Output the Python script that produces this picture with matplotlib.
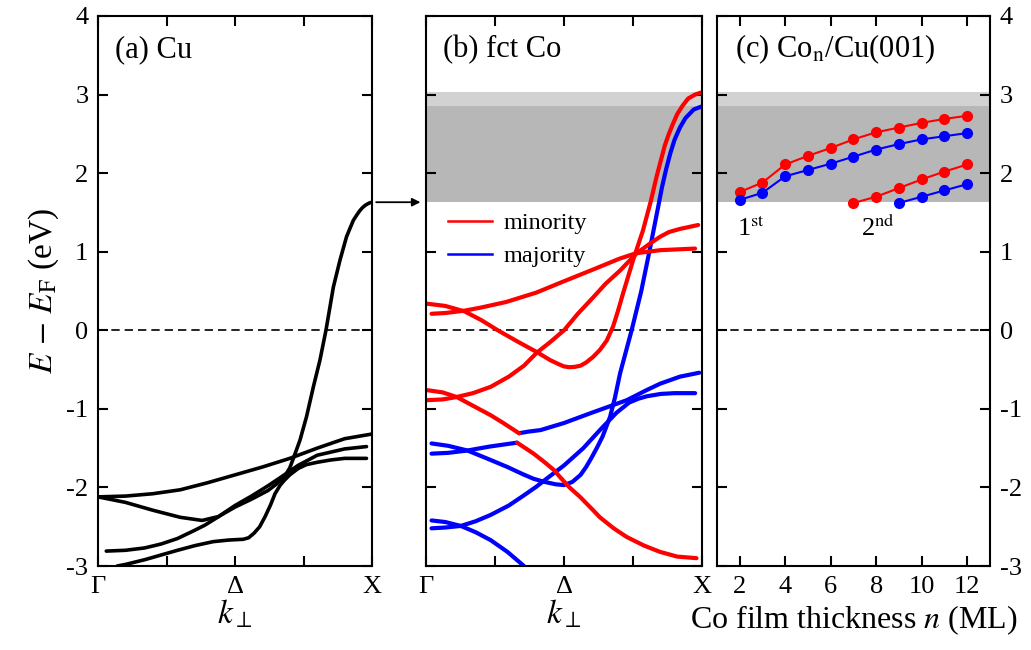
import matplotlib
matplotlib.use('Agg')
import matplotlib.pyplot as plt
from matplotlib.lines import Line2D

plt.rcParams['font.family'] = ['Liberation Serif', 'DejaVu Serif']
plt.rcParams['mathtext.fontset'] = 'stix'

# ---- (a) Cu bands along Gamma-X, k in units of Gamma-X ----
cu_k1 = [0.0, 0.1, 0.2, 0.3, 0.4, 0.5, 0.6, 0.7, 0.8, 0.9, 1.0]
cu_e1 = [-2.12, -2.11, -2.08, -2.03, -1.94, -1.84, -1.74, -1.63, -1.50, -1.38, -1.32]

cu_k2 = [0.0, 0.1, 0.2, 0.3, 0.38, 0.44, 0.5, 0.56, 0.62, 0.68, 0.73, 0.8, 0.9, 0.98]
cu_e2 = [-2.12, -2.19, -2.29, -2.38, -2.42, -2.37, -2.23, -2.11, -1.98, -1.84, -1.72, -1.59, -1.51, -1.48]

cu_k3 = [0.03, 0.1, 0.17, 0.23, 0.29, 0.35, 0.39, 0.45, 0.5, 0.56, 0.62, 0.65, 0.675, 0.69, 0.70, 0.713,
         0.737, 0.761, 0.786, 0.81, 0.832, 0.859, 0.883, 0.907, 0.92, 0.932, 0.945, 0.955, 0.965,
         0.975, 0.99, 1.0]
cu_e3 = [-2.81, -2.80, -2.77, -2.72, -2.65, -2.55, -2.48, -2.35, -2.25, -2.15, -2.04, -1.96, -1.88, -1.81, -1.75, -1.63,
         -1.40, -1.10, -0.72, -0.38, 0.0, 0.55, 0.89, 1.19, 1.30, 1.40, 1.47, 1.52, 1.56,
         1.59, 1.62, 1.63]

cu_k4 = [0.07, 0.1, 0.17, 0.23, 0.29, 0.354, 0.42, 0.475, 0.5, 0.53, 0.55, 0.57, 0.59, 0.61, 0.63, 0.646,
         0.665, 0.68, 0.70, 0.73, 0.76, 0.80, 0.85, 0.90, 0.98]
cu_e4 = [-3.0, -2.98, -2.92, -2.86, -2.80, -2.74, -2.69, -2.67, -2.665, -2.66, -2.64, -2.58, -2.50, -2.37, -2.22, -2.08,
         -1.97, -1.91, -1.84, -1.76, -1.71, -1.68, -1.65, -1.63, -1.63]

# ---- (b) fct Co, minority (red) ----
co_r1_k = [0.0, 0.07, 0.14, 0.2, 0.26, 0.33, 0.403, 0.45, 0.48, 0.5, 0.52, 0.54, 0.56, 0.58, 0.605, 0.63,
           0.655, 0.678, 0.695, 0.714, 0.75, 0.786, 0.815, 0.835, 0.85, 0.865, 0.88, 0.895, 0.91, 0.93,
           0.95, 0.975, 1.0]
co_r1_e = [0.34, 0.31, 0.24, 0.13, 0.0, -0.14, -0.28, -0.38, -0.43, -0.46, -0.47, -0.465, -0.45, -0.41, -0.34, -0.25,
           -0.13, 0.05, 0.24, 0.47, 0.89, 1.27, 1.65, 1.95, 2.15, 2.35, 2.5, 2.63, 2.75, 2.86,
           2.95, 3.0, 3.03]

co_r2_k = [0.02, 0.07, 0.14, 0.2, 0.29, 0.4, 0.49, 0.61, 0.7, 0.76, 0.85, 0.975]
co_r2_e = [0.21, 0.22, 0.25, 0.29, 0.36, 0.48, 0.61, 0.78, 0.91, 0.98, 1.02, 1.04]

co_r3_k = [0.0, 0.06, 0.11, 0.17, 0.234, 0.3, 0.355, 0.403, 0.45, 0.5, 0.55, 0.606, 0.65, 0.703,
           0.763, 0.81, 0.848, 0.88, 0.92, 0.986]
co_r3_e = [-0.89, -0.88, -0.85, -0.80, -0.72, -0.59, -0.45, -0.28, -0.15, 0.0, 0.21, 0.42, 0.59, 0.76,
           0.98, 1.10, 1.19, 1.25, 1.29, 1.34]

co_r4_k = [0.0, 0.06, 0.112, 0.17, 0.234, 0.28, 0.337]
co_r4_e = [-0.76, -0.79, -0.85, -0.96, -1.08, -1.18, -1.31]

co_r5_k = [0.33, 0.39, 0.43, 0.464, 0.486, 0.52, 0.558, 0.6, 0.63, 0.68, 0.727, 0.79, 0.848, 0.91, 0.98]
co_r5_e = [-1.43, -1.57, -1.68, -1.78, -1.87, -2.0, -2.12, -2.27, -2.38, -2.52, -2.63, -2.74, -2.82, -2.88, -2.90]

# ---- (b) fct Co, majority (blue) ----
co_b1_k = [0.02, 0.08, 0.15, 0.23, 0.33]
co_b1_e = [-1.57, -1.56, -1.53, -1.48, -1.43]

co_b2_k = [0.02, 0.08, 0.15, 0.22, 0.295, 0.35, 0.39, 0.43, 0.47, 0.5, 0.53, 0.56, 0.58, 0.6, 0.62, 0.64,
           0.667, 0.685, 0.703, 0.745, 0.78, 0.812, 0.84, 0.855, 0.87, 0.885, 0.9, 0.92, 0.94, 0.97, 1.0]
co_b2_e = [-1.44, -1.47, -1.53, -1.63, -1.74, -1.83, -1.89, -1.93, -1.96, -1.97, -1.93, -1.84, -1.74, -1.62, -1.49, -1.35,
           -1.10, -0.85, -0.55, 0.0, 0.5, 1.05, 1.55, 1.82, 2.05, 2.25, 2.42, 2.58, 2.7, 2.81, 2.85]

co_b3_k = [0.02, 0.07, 0.126, 0.18, 0.234, 0.3, 0.355, 0.4, 0.44, 0.5, 0.57, 0.63, 0.69, 0.736,
           0.77, 0.8, 0.85, 0.9, 0.975]
co_b3_e = [-2.52, -2.51, -2.49, -2.43, -2.35, -2.23, -2.10, -1.99, -1.88, -1.72, -1.50, -1.27, -1.05, -0.92,
           -0.87, -0.84, -0.81, -0.80, -0.80]

co_b4_k = [0.02, 0.07, 0.126, 0.18, 0.234, 0.295, 0.355]
co_b4_e = [-2.42, -2.44, -2.49, -2.57, -2.67, -2.82, -3.0]

co_b5_k = [0.337, 0.37, 0.415, 0.5, 0.6, 0.727, 0.8, 0.848, 0.92, 0.99]
co_b5_e = [-1.31, -1.29, -1.27, -1.18, -1.05, -0.89, -0.76, -0.68, -0.59, -0.54]

# ---- (c) Co_n/Cu(001) quantum well states ----
n_1st = [2, 3, 4, 5, 6, 7, 8, 9, 10, 11, 12]
qw1_min = [1.76, 1.88, 2.11, 2.22, 2.32, 2.43, 2.52, 2.58, 2.64, 2.69, 2.73]
qw1_maj = [1.66, 1.75, 1.96, 2.04, 2.12, 2.21, 2.30, 2.37, 2.43, 2.47, 2.51]
n_2nd_min = [7, 8, 9, 10, 11, 12]
qw2_min = [1.62, 1.70, 1.81, 1.92, 2.02, 2.11]
n_2nd_maj = [9, 10, 11, 12]
qw2_maj = [1.62, 1.70, 1.78, 1.86]

k_ticks = [0, 0.5, 1]
k_labels = ['Γ', 'Δ', 'X']
e_ticks = [-3, -2, -1, 0, 1, 2, 3, 4]

RED = '#ff0000'
BLUE = '#0000ff'
LIGHT = '#d2d2d2'
DARK = '#b7b7b7'

cu_x = cu_e3[-1]        # Cu sp-band top at X
co_min_x = co_r1_e[-1]  # Co minority at X
co_maj_x = co_b2_e[-1]  # Co majority at X

fig = plt.figure(figsize=(10.31, 6.5), dpi=100)
ax_a = fig.add_axes([0.0951, 0.1292, 0.2657, 0.8462])
ax_b = fig.add_axes([0.4132, 0.1292, 0.2677, 0.8462])
ax_c = fig.add_axes([0.6954, 0.1292, 0.2648, 0.8462])

for ax in (ax_a, ax_b, ax_c):
    ax.set_ylim(-3, 4)
    ax.set_yticks(e_ticks)
    ax.set_yticklabels([str(v) for v in e_ticks])
    ax.axhline(0, color='black', lw=1.2, ls=(0, (5, 3)), zorder=1)
    for s in ax.spines.values():
        s.set_linewidth(1.5)
    ax.tick_params(direction='in', top=True, right=True, length=7, width=1.5,
                   which='both', labelsize=19, pad=7)

for ax in (ax_a, ax_b):
    ax.set_xlim(0, 1)
    ax.set_xticks(k_ticks)
    ax.set_xticklabels(k_labels)
    ax.set_xticks([0.25, 0.75], minor=True)
    ax.set_xlabel(r'$k_\perp$', fontsize=24, labelpad=0)

# (a)
for k, e in [(cu_k1, cu_e1), (cu_k2, cu_e2), (cu_k3, cu_e3), (cu_k4, cu_e4)]:
    ax_a.plot(k, e, color='black', lw=2.6, solid_capstyle='round')
ax_a.set_ylabel(r'$E\,-\,E_{\rm F}$ (eV)', fontsize=24, labelpad=4)
ax_a.text(0.062, 0.925, '(a) Cu', transform=ax_a.transAxes, fontsize=22)

# (b)
ax_b.axhspan(cu_x, co_min_x, color=LIGHT, lw=0, zorder=0)
ax_b.axhspan(cu_x, co_maj_x, color=DARK, lw=0, zorder=0)
for k, e in [(co_b1_k, co_b1_e), (co_b2_k, co_b2_e), (co_b3_k, co_b3_e),
             (co_b4_k, co_b4_e), (co_b5_k, co_b5_e)]:
    ax_b.plot(k, e, color=BLUE, lw=3, solid_capstyle='round')
for k, e in [(co_r1_k, co_r1_e), (co_r2_k, co_r2_e), (co_r3_k, co_r3_e),
             (co_r4_k, co_r4_e), (co_r5_k, co_r5_e)]:
    ax_b.plot(k, e, color=RED, lw=3, solid_capstyle='round')
ax_b.tick_params(labelleft=False)
ax_b.text(0.062, 0.925, '(b) fct Co', transform=ax_b.transAxes, fontsize=22)
handles = [Line2D([], [], color=RED, lw=1.8, label='minority'),
           Line2D([], [], color=BLUE, lw=1.8, label='majority')]
ax_b.legend(handles=handles, loc='upper left', bbox_to_anchor=(0.0, 0.683), frameon=False,
            fontsize=17.5, handlelength=1.8, handletextpad=0.5, labelspacing=0.45)

ax_a.annotate('', xy=(0, cu_x), xycoords=ax_b.transData,
              xytext=(1.0, cu_x), textcoords=ax_a.transData,
              arrowprops=dict(arrowstyle='-|>', color='black', lw=1.3,
                              shrinkA=3, shrinkB=4, mutation_scale=12))

# (c)
ax_c.axhspan(cu_x, co_min_x, color=LIGHT, lw=0, zorder=0)
ax_c.axhspan(cu_x, co_maj_x, color=DARK, lw=0, zorder=0)
ax_c.plot(n_1st, qw1_min, '-o', color=RED, lw=1.5, ms=7)
ax_c.plot(n_1st, qw1_maj, '-o', color=BLUE, lw=1.5, ms=7)
ax_c.plot(n_2nd_min, qw2_min, '-o', color=RED, lw=1.5, ms=7)
ax_c.plot(n_2nd_maj, qw2_maj, '-o', color=BLUE, lw=1.5, ms=7)
ax_c.set_xlim(1, 13)
ax_c.set_xticks([2, 4, 6, 8, 10, 12])
ax_c.tick_params(labelleft=False, labelright=True)
ax_c.set_xlabel(r'Co film thickness $n$ (ML)', fontsize=23, labelpad=4)
ax_c.text(0.066, 0.925, r'(c) Co$_{\rm n}$/Cu(001)', transform=ax_c.transAxes, fontsize=22)
ax_c.text(n_1st[0] - 0.1, 1.2, r'1$^{\rm st}$', fontsize=19)
ax_c.text(n_2nd_min[0] + 0.35, 1.2, r'2$^{\rm nd}$', fontsize=19)

fig.savefig('out.png', dpi=100)
